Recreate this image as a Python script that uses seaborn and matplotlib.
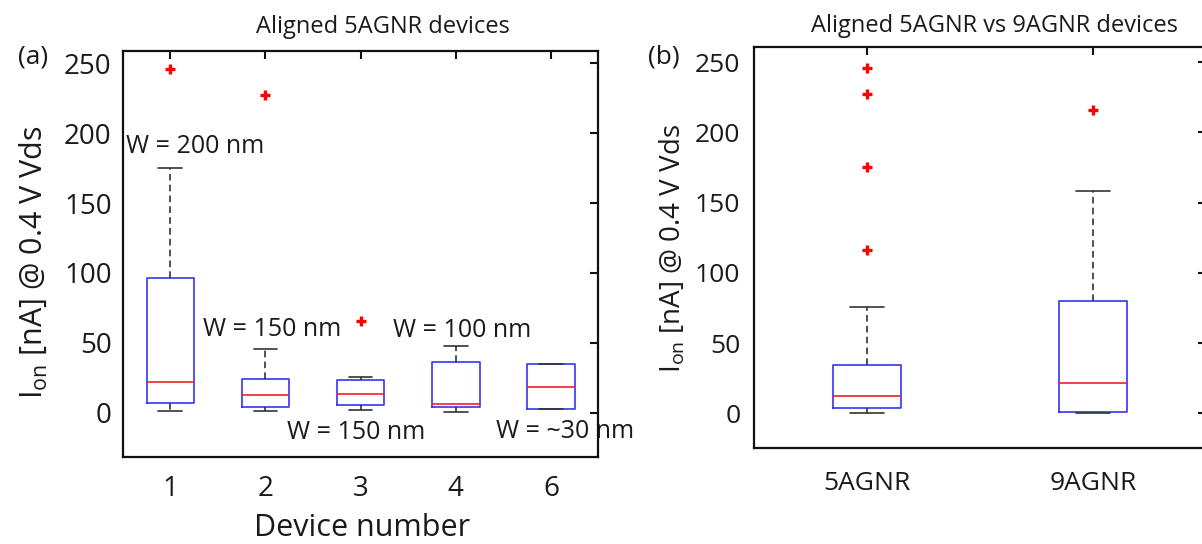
import pandas as pd
import numpy as np
import matplotlib
matplotlib.use("Agg")
import matplotlib.pyplot as plt
import seaborn as sns

# ========== DATA ==========
# (a) Ion at 0.4 V Vds per aligned 5AGNR device [nA]
devices = ["1", "2", "3", "4", "6"]
dev1 = [1.1, 6.9, 6.9, 22.3, 22.3, 96.1, 96.1, 175.3, 246.0]
dev2 = [1.1, 4.0, 4.0, 12.4, 12.4, 24.1, 24.1, 45.4, 227.0]
dev3 = [1.7, 5.5, 5.5, 13.7, 13.7, 23.6, 23.6, 25.8, 65.8]
dev4 = [0.7, 4.2, 6.2, 36.5, 47.9]
dev6 = [2.5, 2.5, 18.6, 34.8, 34.8]
width_notes = ["W = 200 nm", "W = 150 nm", "W = 100 nm", "W = 150 nm", "W = ~30 nm"]

# (b) 5AGNR vs 9AGNR
ribbons = ["5AGNR", "9AGNR"]
agnr5 = [0.4, 3.7, 3.7, 3.7, 3.7, 3.7, 12.0, 12.0, 12.0, 12.0, 12.0,
         34.0, 34.0, 34.0, 34.0, 34.0, 75.3, 116.0, 175.0, 227.0, 246.0]
agnr9 = [0.0, 1.0, 1.0, 21.7, 21.7, 80.2, 80.2, 157.9, 216.0]

yticks = [0, 50, 100, 150, 200, 250]

df_a = pd.concat([pd.DataFrame({"device": d, "ion": v})
                  for d, v in zip(devices, [dev1, dev2, dev3, dev4, dev6])])
df_b = pd.concat([pd.DataFrame({"ribbon": r, "ion": v})
                  for r, v in zip(ribbons, [agnr5, agnr9])])

# ========== STYLE ==========
sns.set_style("white")
plt.rcParams["font.family"] = ["Open Sans", "DejaVu Sans"]
plt.rcParams["mathtext.default"] = "regular"
txt = "#1a1a1a"

box_kw = dict(
    fill=False,
    whis=1.5,
    linewidth=1.2,
    fliersize=7,
    boxprops=dict(color="#3535f0"),
    medianprops=dict(color="#f02020"),
    whiskerprops=dict(color="#333333", linestyle=(0, (4, 2.5))),
    capprops=dict(color="#333333"),
    flierprops=dict(marker="+", markeredgecolor="red", markerfacecolor="red",
                    markeredgewidth=2.4),
)

fig = plt.figure(figsize=(12.02, 5.44), dpi=100)
ax_a = fig.add_axes([0.1021, 0.1605, 0.3958, 0.7463])
ax_b = fig.add_axes([0.6275, 0.1759, 0.3758, 0.7382])  # right edge runs just past the figure

sns.boxplot(data=df_a, x="device", y="ion", order=devices, width=0.5, ax=ax_a, **box_kw)
sns.boxplot(data=df_b, x="ribbon", y="ion", order=ribbons, width=0.3, ax=ax_b, **box_kw)

ax_a.set_xlim(-0.5, 4.5)
ax_a.set_ylim(-31.5, 259)
ax_b.set_xlim(-0.5, 1.5)
ax_b.set_ylim(-25, 261)

for ax, size, pad_x, pad_y in [(ax_a, 20, 13, 8), (ax_b, 19, 16, 10)]:
    ax.set_yticks(yticks)
    ax.set_xlabel("")
    ax.set_ylabel("")
    ax.tick_params(direction="in", length=6, width=1.5, top=True, right=True,
                   labelsize=size, labelcolor=txt, color="#111111")
    ax.tick_params(axis="x", pad=pad_x)
    ax.tick_params(axis="y", pad=pad_y)
    for s in ax.spines.values():
        s.set_linewidth(1.6)
        s.set_color("#111111")
        s.set_visible(True)

# width annotations in panel (a)
note_xy = [(-0.462, 186), (0.347, 54.5), (2.34, 53.8), (1.229, -18.8), (3.42, -18)]
for note, (nx, ny) in zip(width_notes, note_xy):
    ax_a.text(nx, ny, note, fontsize=18, color=txt, ha="left", va="baseline", zorder=2)

# titles, panel letters, axis labels
fig.text(383 / 1202, 1 - 33 / 544, "Aligned 5AGNR devices", fontsize=17,
         color=txt, ha="center", va="baseline")
fig.text(994.5 / 1202, 1 - 32 / 544, "Aligned 5AGNR vs 9AGNR devices", fontsize=17,
         color=txt, ha="center", va="baseline")
fig.text(33.5 / 1202, 1 - 57.5 / 544, "(a)", fontsize=19, color=txt, ha="center", va="center")
fig.text(664 / 1202, 1 - 57.5 / 544, "(b)", fontsize=19, color=txt, ha="center", va="center")

ylab = "I$_{on}$ [nA] @ 0.4 V Vds"
fig.text(33.5 / 1202, 1 - 262 / 544, ylab, fontsize=22, color=txt,
         rotation=90, ha="center", va="center")
fig.text(673 / 1202, 1 - 249 / 544, ylab, fontsize=20, color=txt,
         rotation=90, ha="center", va="center")
fig.text(361.6 / 1202, 0.002, "Device number", fontsize=22, color=txt,
         ha="center", va="bottom")

fig.savefig("out.png", dpi=100)
